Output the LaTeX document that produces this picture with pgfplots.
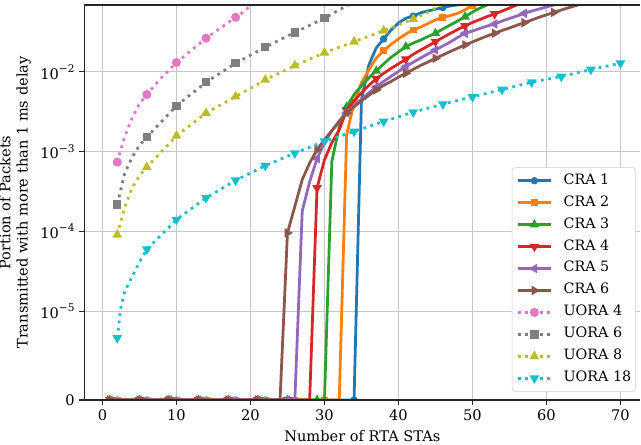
\documentclass[border=0pt]{standalone}
\usepackage{fontspec}
\setmainfont{DejaVu Serif}
\usepackage{pgfplots}
\pgfplotsset{compat=1.18}
\definecolor{c0}{HTML}{1F77B4}
\definecolor{c1}{HTML}{FF7F0E}
\definecolor{c2}{HTML}{2CA02C}
\definecolor{c3}{HTML}{D62728}
\definecolor{c4}{HTML}{9467BD}
\definecolor{c5}{HTML}{8C564B}
\definecolor{c6}{HTML}{E377C2}
\definecolor{c7}{HTML}{7F7F7F}
\definecolor{c8}{HTML}{BCBD22}
\definecolor{c9}{HTML}{17BECF}
% symlog transform (linthresh 1e-5, linscale 1)
\newcommand{\slg}{min(\thisrow{y}*100000,1)*10/9+log10(max(\thisrow{y}*100000,1))}
\newcommand{\tp}[1]{10\raisebox{0.9ex}{\fontsize{7.6}{8}\selectfont −#1}}
\pgfplotsset{
  cra/.style={line width=2pt, solid, mark repeat=4, color=#1},
  uora/.style={line width=2pt, dash pattern=on 2pt off 3.3pt, color=#1},
}
\begin{document}
\begin{tikzpicture}
\useasboundingbox (0,0) rectangle (461.5pt,319.7pt);
\begin{axis}[
  name=ax,
  at={(60.7pt,31.7pt)}, anchor=south west,
  scale only axis, width=400.4pt, height=284.4pt,
  xmin=-2.45, xmax=72.7, ymin=0, ymax=4.949,
  xtick={0,10,...,70},
  ytick={0,1.11111,2.11111,3.11111,4.11111},
  yticklabels={0,\tp{5},\tp{4},\tp{3},\tp{2}},
  /pgf/number format/assume math mode=true,
  grid=major, grid style={black!22, line width=0.8pt},
  axis line style={draw=none},
  clip marker paths=true,
  tick align=outside, major tick length=3.5pt,
  tick style={black!85, line width=0.8pt},
  tick pos=left,
  ticklabel style={font=\fontsize{10.5}{12}\selectfont},
  label style={font=\fontsize{10.5}{12.5}\selectfont},
  xlabel={Number of RTA STAs},
  ylabel={Portion of Packets\\Transmitted with more than 1 ms delay},
  ylabel style={align=center},
  legend cell align=left,
  legend style={at={(0.9914,0.021)}, anchor=south east,
    draw=black!20, rounded corners=2pt, fill=white,
    font=\fontsize{10.3}{12}\selectfont,
    inner xsep=3pt, inner ysep=4.5pt, row sep=5.8pt, column sep=8pt,
    nodes={inner sep=0pt, text height=7.5pt, text depth=2.5pt}},
  legend image code/.code={\draw[mark repeat=2, mark phase=2, mark indices={2}] plot coordinates {(0pt,0pt) (12pt,0pt) (24pt,0pt)};},
]
% CRA 1
\addplot[cra=c0, mark=*, mark size=1.6pt, mark phase=2, mark options={solid, fill=c0, draw=c0}] table[x=x, y expr=\slg] {
x y
1 0
2 0
3 0
4 0
5 0
6 0
7 0
8 0
9 0
10 0
11 0
12 0
13 0
14 0
15 0
16 0
17 0
18 0
19 0
20 0
21 0
22 0
23 0
24 0
25 0
26 0
27 0
28 0
29 0
30 0
31 0
32 0
33 0
34 0
35 0.00447
36 0.0122
37 0.0200
38 0.0259
39 0.0335
40 0.041
41 0.047
42 0.050
43 0.055
44 0.058
45 0.061
46 0.064
47 0.067
48 0.069
49 0.072
50 0.075
};
\addlegendentry{CRA 1}
% CRA 2
\addplot[cra=c1, mark=square*, mark size=1.5pt, mark phase=2, mark options={solid, fill=c1, draw=c1}] table[x=x, y expr=\slg] {
x y
1 0
2 0
3 0
4 0
5 0
6 0
7 0
8 0
9 0
10 0
11 0
12 0
13 0
14 0
15 0
16 0
17 0
18 0
19 0
20 0
21 0
22 0
23 0
24 0
25 0
26 0
27 0
28 0
29 0
30 0
31 0
32 0
33 0.00163
34 0.0041
35 0.0073
36 0.0106
37 0.0149
38 0.0183
39 0.0221
40 0.0259
41 0.0299
42 0.0335
43 0.0365
44 0.0404
45 0.0447
46 0.0483
47 0.0508
48 0.054
49 0.060
50 0.068
51 0.076
};
\addlegendentry{CRA 2}
% CRA 3
\addplot[cra=c2, mark=triangle*, mark size=2.0pt, mark phase=1, mark options={solid, fill=c2, draw=c2}] table[x=x, y expr=\slg] {
x y
1 0
2 0
3 0
4 0
5 0
6 0
7 0
8 0
9 0
10 0
11 0
12 0
13 0
14 0
15 0
16 0
17 0
18 0
19 0
20 0
21 0
22 0
23 0
24 0
25 0
26 0
27 0
28 0
29 0
30 0
31 0.00076
32 0.00205
33 0.00365
34 0.0052
35 0.0067
36 0.0084
37 0.0103
38 0.0126
39 0.0152
40 0.0178
41 0.0207
42 0.0230
43 0.0251
44 0.0278
45 0.0305
46 0.0345
47 0.0387
48 0.0434
49 0.0491
50 0.0562
51 0.063
52 0.069
53 0.075
};
\addlegendentry{CRA 3}
% CRA 4
\addplot[cra=c3, mark=triangle*, mark size=2.0pt, mark phase=1, mark options={solid, fill=c3, draw=c3, rotate=180}] table[x=x, y expr=\slg] {
x y
1 0
2 0
3 0
4 0
5 0
6 0
7 0
8 0
9 0
10 0
11 0
12 0
13 0
14 0
15 0
16 0
17 0
18 0
19 0
20 0
21 0
22 0
23 0
24 0
25 0
26 0
27 0
28 0
29 0.000352
30 0.00079
31 0.0013
32 0.00188
33 0.00335
34 0.00434
35 0.00546
36 0.00678
37 0.00818
38 0.00958
39 0.01106
40 0.0126
41 0.0144
42 0.0166
43 0.0188
44 0.0211
45 0.0239
46 0.0270
47 0.0303
48 0.0340
49 0.0376
50 0.0416
51 0.0453
52 0.0494
53 0.0531
54 0.0579
55 0.063
56 0.069
57 0.075
};
\addlegendentry{CRA 4}
% CRA 5
\addplot[cra=c4, mark=triangle*, mark size=2.0pt, mark phase=1, mark options={solid, fill=c4, draw=c4, rotate=90}] table[x=x, y expr=\slg] {
x y
1 0
2 0
3 0
4 0
5 0
6 0
7 0
8 0
9 0
10 0
11 0
12 0
13 0
14 0
15 0
16 0
17 0
18 0
19 0
20 0
21 0
22 0
23 0
24 0
25 0
26 0
27 0.000182
28 0.00042
29 0.00082
30 0.0013
31 0.00183
32 0.00244
33 0.00307
34 0.00376
35 0.00453
36 0.00546
37 0.00644
38 0.0076
39 0.00879
40 0.01015
41 0.01165
42 0.0132
43 0.01496
44 0.0168
45 0.0188
46 0.0211
47 0.0237
48 0.0270
49 0.0305
50 0.0325
51 0.0350
52 0.0376
53 0.0398
54 0.0434
55 0.0467
56 0.0501
57 0.0542
58 0.0579
59 0.0613
60 0.065
61 0.069
62 0.073
};
\addlegendentry{CRA 5}
% CRA 6
\addplot[cra=c5, mark=triangle*, mark size=2.0pt, mark phase=1, mark options={solid, fill=c5, draw=c5, rotate=-90}] table[x=x, y expr=\slg] {
x y
1 0
2 0
3 0
4 0
5 0
6 0
7 0
8 0
9 0
10 0
11 0
12 0
13 0
14 0
15 0
16 0
17 0
18 0
19 0
20 0
21 0
22 0
23 0
24 0
25 0.000096
26 0.000207
27 0.000447
28 0.000722
29 0.00106
30 0.00141
31 0.00183
32 0.00237
33 0.00305
34 0.00365
35 0.00434
36 0.00508
37 0.00596
38 0.00678
39 0.0076
40 0.00859
41 0.00963
42 0.01075
43 0.01205
44 0.0133
45 0.0148
46 0.0163
47 0.0180
48 0.0198
49 0.0218
50 0.0237
51 0.0259
52 0.0282
53 0.0305
54 0.0330
55 0.0355
56 0.0384
57 0.0413
58 0.0447
59 0.0483
60 0.0519
61 0.0557
62 0.0596
63 0.0637
64 0.0678
65 0.0727
};
\addlegendentry{CRA 6}
% UORA 4
\addplot[uora=c6, mark=*, mark size=2.2pt, mark indices={1,5,7,8,9}, mark options={solid, fill=c6, draw=c6}] table[x=x, y expr=\slg] {
x y
2 0.00074
3 0.00153
4 0.00264
5 0.00398
6 0.0052
8 0.0085
10 0.0131
14 0.0264
18 0.0483
19 0.056
20 0.0668
21 0.078
};
\addlegendentry{UORA 4}
% UORA 6
\addplot[uora=c7, mark=square*, mark size=2.0pt, mark indices={1,5,6,7,8,9,10,11}, mark options={solid, fill=c7, draw=c7}] table[x=x, y expr=\slg] {
x y
2 0.000218
3 0.00053
4 0.00085
5 0.0012
6 0.00152
10 0.00376
14 0.00743
18 0.01285
22 0.0204
26 0.0313
30 0.0469
31 0.053
32 0.060
33 0.067
34 0.075
};
\addlegendentry{UORA 6}
% UORA 8
\addplot[uora=c8, mark=triangle*, mark size=2.1pt, mark indices={1,5,6,7,8,9,10,11,12,13,14}, mark options={solid, fill=c8, draw=c8}] table[x=x, y expr=\slg] {
x y
2 0.000091
3 0.00020
4 0.00035
5 0.00050
6 0.00064
10 0.00158
14 0.00305
18 0.00491
22 0.00794
26 0.0120
30 0.0174
34 0.0239
38 0.0328
42 0.0460
43 0.0504
44 0.0562
45 0.063
46 0.070
47 0.077
};
\addlegendentry{UORA 8}
% UORA 18
\addplot[uora=c9, mark=triangle*, mark size=2.1pt, mark indices={1,6,7,8,9,10,11,12,13,14,15,16,17,18,19,20,21,22}, mark options={solid, fill=c9, draw=c9, rotate=180}] table[x=x, y expr=\slg] {
x y
2 0.000007
2.5 0.0000114
3 0.0000176
4 0.0000271
5 0.0000413
6 0.00006
10 0.000141
14 0.000264
18 0.000438
22 0.000668
26 0.00096
30 0.00135
34 0.00179
38 0.00239
42 0.00313
46 0.00394
50 0.00487
54 0.0060
58 0.00743
62 0.00874
66 0.0107
70 0.01285
};
\addlegendentry{UORA 18}
\end{axis}
\draw[black!85, line width=0.8pt] (ax.north west) -- (ax.south west) -- (ax.south east);
\draw[black!85, line width=0.8pt] (ax.north west) -- (ax.north east);
\end{tikzpicture}
\end{document}
